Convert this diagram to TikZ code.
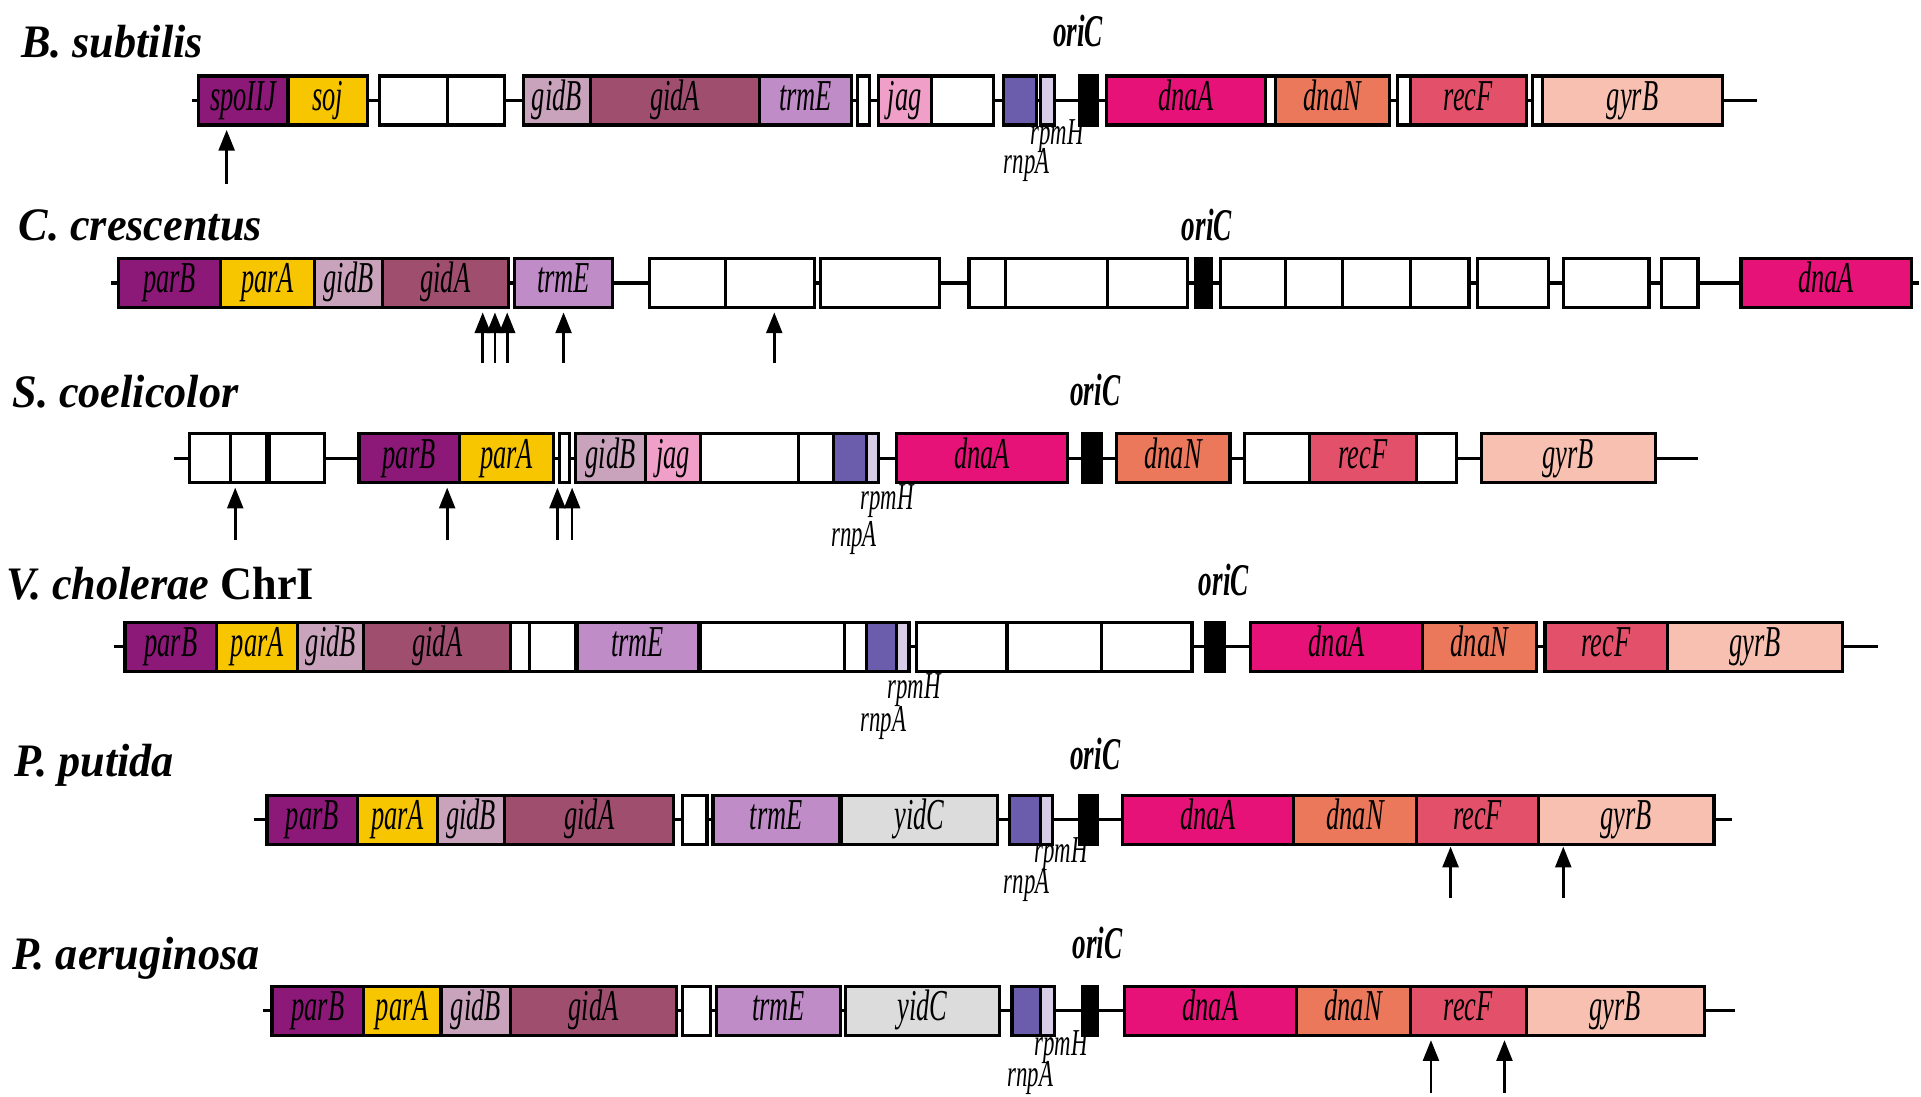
\documentclass[tikz,border=0pt]{standalone}
\usepackage{fontspec}
\setmainfont{Liberation Serif}
\newfontfamily\genefont{Liberation Serif}[FakeStretch=0.6]
\newfontfamily\titlefont{Liberation Serif}[FakeStretch=0.95]
\usetikzlibrary{arrows.meta}

\definecolor{cParB}{RGB}{140,24,120}
\definecolor{cParA}{RGB}{247,198,0}
\definecolor{cGidB}{RGB}{200,163,187}
\definecolor{cGidA}{RGB}{160,78,110}
\definecolor{cTrmE}{RGB}{192,140,200}
\definecolor{cJag}{RGB}{240,160,200}
\definecolor{cRnpA}{RGB}{108,92,172}
\definecolor{cRpmH}{RGB}{215,205,230}
\definecolor{cDnaA}{RGB}{230,18,120}
\definecolor{cDnaN}{RGB}{236,120,92}
\definecolor{cRecF}{RGB}{226,80,105}
\definecolor{cGyrB}{RGB}{248,192,176}
\definecolor{cYidC}{RGB}{220,220,220}

\begin{document}
\begin{tikzpicture}[
  x=1pt, y=-1pt,
  gene/.style={rectangle, draw, fill=white, line width=2.6pt, inner sep=0pt, outer sep=0pt, minimum height=40pt, text height=24pt, text depth=8pt, font=\genefont\fontsize{36}{36}\selectfont\itshape},
  ori/.style={rectangle, draw, fill=black, line width=2.6pt, inner sep=0pt, minimum height=40pt},
  backbone/.style={line width=2.6pt},
  species/.style={anchor=base west, inner sep=0pt, font=\titlefont\fontsize{38}{38}\selectfont\bfseries\itshape},
  orilab/.style={anchor=base, inner sep=0pt, font=\genefont\fontsize{37}{37}\selectfont\bfseries\itshape},
  sublab/.style={inner sep=0pt, font=\genefont\fontsize{31}{31}\selectfont\itshape},
  arrow/.style={-{Triangle[length=17pt, width=13pt]}, line width=2.2pt}
]
  \useasboundingbox (0,0) rectangle (1568,895);

  % B. subtilis
  \node[species] (bsName) at (17,47) {B. subtilis};
  \coordinate (bsL) at (157,82);
  \coordinate (bsR) at (1434,82);
  \draw[backbone] (bsL) -- (bsR);
  \node[gene, fill=cParB, minimum width=73pt] (bsSpo) at (198.5,82) {spoIIJ};
  \node[gene, fill=cParA, minimum width=65pt] (bsSoj) at (267.5,82) {soj};
  \node[gene, minimum width=55pt] (bsW1) at (337.5,82) {};
  \node[gene, minimum width=47pt] (bsW2) at (388.5,82) {};
  \node[gene, fill=cGidB, minimum width=55pt] (bsGidB) at (454.5,82) {gidB};
  \node[gene, fill=cGidA, minimum width=138pt] (bsGidA) at (551,82) {gidA};
  \node[gene, fill=cTrmE, minimum width=75pt] (bsTrmE) at (657.5,82) {trmE};
  \node[gene, minimum width=10pt] (bsW3) at (705,82) {};
  \node[gene, fill=cJag, minimum width=43pt] (bsJag) at (738.5,82) {jag};
  \node[gene, minimum width=51pt] (bsW4) at (785.5,82) {};
  \node[gene, fill=cRnpA, minimum width=27pt] (bsRnpA) at (832.5,82) {};
  \node[gene, fill=cRpmH, minimum width=12pt] (bsRpmH) at (855,82) {};
  \node[ori, minimum width=15pt] (bsOri) at (888.5,82) {};
  \node[gene, fill=cDnaA, minimum width=130pt] (bsDnaA) at (968,82) {dnaA};
  \node[gene, minimum width=8pt] (bsW5) at (1037,82) {};
  \node[gene, fill=cDnaN, minimum width=93pt] (bsDnaN) at (1087.5,82) {dnaN};
  \node[gene, minimum width=10pt] (bsW6) at (1146,82) {};
  \node[gene, fill=cRecF, minimum width=95pt] (bsRecF) at (1198.5,82) {recF};
  \node[gene, minimum width=8pt] (bsW7) at (1255,82) {};
  \node[gene, fill=cGyrB, minimum width=147pt] (bsGyrB) at (1332.5,82) {gyrB};
  \node[orilab] (bsOriLab) at (880,38) {oriC};
  \node[sublab] (bsRpmHLab) at (863,111) {rpmH};
  \node[sublab] (bsRnpALab) at (838,135) {rnpA};
  \coordinate (bsA1) at (185,150);
  \coordinate (bsT1) at (185,106);
  \draw[arrow] (bsA1) -- (bsT1);

  % C. crescentus
  \node[species] (ccName) at (15,196) {C. crescentus};
  \coordinate (ccL) at (91,231);
  \coordinate (ccR) at (1566,231);
  \draw[backbone] (ccL) -- (ccR);
  \node[gene, fill=cParB, minimum width=83pt] (ccParB) at (138.5,231) {parB};
  \node[gene, fill=cParA, minimum width=77pt] (ccParA) at (218.5,231) {parA};
  \node[gene, fill=cGidB, minimum width=55pt] (ccGidB) at (284.5,231) {gidB};
  \node[gene, fill=cGidA, minimum width=103pt] (ccGidA) at (363.5,231) {gidA};
  \node[gene, fill=cTrmE, minimum width=80pt] (ccTrmE) at (460,231) {trmE};
  \node[gene, minimum width=62pt] (ccW1) at (561,231) {};
  \node[gene, minimum width=73pt] (ccW2) at (628.5,231) {};
  \node[gene, minimum width=97pt] (ccW3) at (718.5,231) {};
  \node[gene, minimum width=30pt] (ccW4) at (806,231) {};
  \node[gene, minimum width=83pt] (ccW5) at (862.5,231) {};
  \node[gene, minimum width=65pt] (ccW6) at (936.5,231) {};
  \node[ori, minimum width=13pt] (ccOri) at (982.5,231) {};
  \node[gene, minimum width=53pt] (ccW7) at (1022.5,231) {};
  \node[gene, minimum width=47pt] (ccW8) at (1072.5,231) {};
  \node[gene, minimum width=55pt] (ccW9) at (1123.5,231) {};
  \node[gene, minimum width=48pt] (ccW10) at (1175,231) {};
  \node[gene, minimum width=58pt] (ccW11) at (1235,231) {};
  \node[gene, minimum width=70pt] (ccW12) at (1311,231) {};
  \node[gene, minimum width=30pt] (ccW13) at (1371,231) {};
  \node[gene, fill=cDnaA, minimum width=139pt] (ccDnaA) at (1490.5,231) {dnaA};
  \node[orilab] (ccOriLab) at (985,196) {oriC};
  \coordinate (ccA1) at (394,296);
  \coordinate (ccT1) at (394,255);
  \coordinate (ccA2) at (404,296);
  \coordinate (ccT2) at (404,255);
  \coordinate (ccA3) at (414,296);
  \coordinate (ccT3) at (414,255);
  \coordinate (ccA4) at (460,296);
  \coordinate (ccT4) at (460,255);
  \coordinate (ccA5) at (632,296);
  \coordinate (ccT5) at (632,255);
  \draw[arrow] (ccA1) -- (ccT1);
  \draw[arrow] (ccA2) -- (ccT2);
  \draw[arrow] (ccA3) -- (ccT3);
  \draw[arrow] (ccA4) -- (ccT4);
  \draw[arrow] (ccA5) -- (ccT5);

  % S. coelicolor
  \node[species] (scName) at (10,333) {S. coelicolor};
  \coordinate (scL) at (142,374);
  \coordinate (scR) at (1386,374);
  \draw[backbone] (scL) -- (scR);
  \node[gene, minimum width=33pt] (scW1) at (171.5,374) {};
  \node[gene, minimum width=30pt] (scW2) at (203,374) {};
  \node[gene, minimum width=45pt] (scW3) at (242.5,374) {};
  \node[gene, fill=cParB, minimum width=82pt] (scParB) at (334,374) {parB};
  \node[gene, fill=cParA, minimum width=77pt] (scParA) at (413.5,374) {parA};
  \node[gene, minimum width=8pt] (scW4) at (461,374) {};
  \node[gene, fill=cGidB, minimum width=57pt] (scGidB) at (498.5,374) {gidB};
  \node[gene, fill=cJag, minimum width=45pt] (scJag) at (549.5,374) {jag};
  \node[gene, minimum width=80pt] (scW5) at (612,374) {};
  \node[gene, minimum width=28pt] (scW6) at (666,374) {};
  \node[gene, fill=cRnpA, minimum width=27pt] (scRnpA) at (693.5,374) {};
  \node[gene, fill=cRpmH, minimum width=10pt] (scRpmH) at (712,374) {};
  \node[gene, fill=cDnaA, minimum width=139pt] (scDnaA) at (801.5,374) {dnaA};
  \node[ori, minimum width=15pt] (scOri) at (891.5,374) {};
  \node[gene, fill=cDnaN, minimum width=93pt] (scDnaN) at (957.5,374) {dnaN};
  \node[gene, minimum width=53pt] (scW7) at (1042.5,374) {};
  \node[gene, fill=cRecF, minimum width=87pt] (scRecF) at (1112.5,374) {recF};
  \node[gene, minimum width=33pt] (scW8) at (1172.5,374) {};
  \node[gene, fill=cGyrB, minimum width=142pt] (scGyrB) at (1280,374) {gyrB};
  \node[orilab] (scOriLab) at (894,331) {oriC};
  \node[sublab] (scRpmHLab) at (724,409) {rpmH};
  \node[sublab] (scRnpALab) at (697,439) {rnpA};
  \coordinate (scA1) at (192,441);
  \coordinate (scT1) at (192,398);
  \coordinate (scA2) at (365,441);
  \coordinate (scT2) at (365,398);
  \coordinate (scA3) at (455,441);
  \coordinate (scT3) at (455,398);
  \coordinate (scA4) at (467,441);
  \coordinate (scT4) at (467,398);
  \draw[arrow] (scA1) -- (scT1);
  \draw[arrow] (scA2) -- (scT2);
  \draw[arrow] (scA3) -- (scT3);
  \draw[arrow] (scA4) -- (scT4);

  % V. cholerae ChrI
  \node[species] (vcName) at (5,489) {V. cholerae \upshape ChrI};
  \coordinate (vcL) at (93,528);
  \coordinate (vcR) at (1533,528);
  \draw[backbone] (vcL) -- (vcR);
  \node[gene, fill=cParB, minimum width=75pt] (vcParB) at (139.5,528) {parB};
  \node[gene, fill=cParA, minimum width=66pt] (vcParA) at (210,528) {parA};
  \node[gene, fill=cGidB, minimum width=54pt] (vcGidB) at (270,528) {gidB};
  \node[gene, fill=cGidA, minimum width=120pt] (vcGidA) at (357,528) {gidA};
  \node[gene, minimum width=15pt] (vcW1) at (424.5,528) {};
  \node[gene, minimum width=38pt] (vcW2) at (451,528) {};
  \node[gene, fill=cTrmE, minimum width=99pt] (vcTrmE) at (520.5,528) {trmE};
  \node[gene, minimum width=117pt] (vcW3) at (630.5,528) {};
  \node[gene, minimum width=18pt] (vcW4) at (698,528) {};
  \node[gene, fill=cRnpA, minimum width=25pt] (vcRnpA) at (719.5,528) {};
  \node[gene, fill=cRpmH, minimum width=10pt] (vcRpmH) at (737,528) {};
  \node[gene, minimum width=74pt] (vcW5) at (785,528) {};
  \node[gene, minimum width=77pt] (vcW6) at (860.5,528) {};
  \node[gene, minimum width=74pt] (vcW7) at (936,528) {};
  \node[ori, minimum width=15pt] (vcOri) at (991.5,528) {};
  \node[gene, fill=cDnaA, minimum width=140pt] (vcDnaA) at (1091,528) {dnaA};
  \node[gene, fill=cDnaN, minimum width=93pt] (vcDnaN) at (1207.5,528) {dnaN};
  \node[gene, fill=cRecF, minimum width=100pt] (vcRecF) at (1311,528) {recF};
  \node[gene, fill=cGyrB, minimum width=143pt] (vcGyrB) at (1432.5,528) {gyrB};
  \node[orilab] (vcOriLab) at (999,486) {oriC};
  \node[sublab] (vcRpmHLab) at (746,563) {rpmH};
  \node[sublab] (vcRnpALab) at (721,590) {rnpA};

  % P. putida
  \node[species] (ppName) at (12,634) {P. putida};
  \coordinate (ppL) at (207,669);
  \coordinate (ppR) at (1414,669);
  \draw[backbone] (ppL) -- (ppR);
  \node[gene, fill=cParB, minimum width=74pt] (ppParB) at (255,669) {parB};
  \node[gene, fill=cParA, minimum width=65pt] (ppParA) at (324.5,669) {parA};
  \node[gene, fill=cGidB, minimum width=55pt] (ppGidB) at (384.5,669) {gidB};
  \node[gene, fill=cGidA, minimum width=138pt] (ppGidA) at (481,669) {gidA};
  \node[gene, minimum width=20pt] (ppW1) at (567,669) {};
  \node[gene, fill=cTrmE, minimum width=103pt] (ppTrmE) at (633.5,669) {trmE};
  \node[gene, fill=cYidC, minimum width=127pt] (ppYidC) at (750.5,669) {yidC};
  \node[gene, fill=cRnpA, minimum width=25pt] (ppRnpA) at (836.5,669) {};
  \node[gene, fill=cRpmH, minimum width=10pt] (ppRpmH) at (854,669) {};
  \node[ori, minimum width=15pt] (ppOri) at (888.5,669) {};
  \node[gene, fill=cDnaA, minimum width=140pt] (ppDnaA) at (986,669) {dnaA};
  \node[gene, fill=cDnaN, minimum width=100pt] (ppDnaN) at (1106,669) {dnaN};
  \node[gene, fill=cRecF, minimum width=100pt] (ppRecF) at (1206,669) {recF};
  \node[gene, fill=cGyrB, minimum width=143pt] (ppGyrB) at (1327.5,669) {gyrB};
  \node[orilab] (ppOriLab) at (894,628) {oriC};
  \node[sublab] (ppRpmHLab) at (866,697) {rpmH};
  \node[sublab] (ppRnpALab) at (838,722) {rnpA};
  \coordinate (ppA1) at (1184,733);
  \coordinate (ppT1) at (1184,691);
  \coordinate (ppA2) at (1276,733);
  \coordinate (ppT2) at (1276,691);
  \draw[arrow] (ppA1) -- (ppT1);
  \draw[arrow] (ppA2) -- (ppT2);

  % P. aeruginosa
  \node[species] (paName) at (10,791) {P. aeruginosa};
  \coordinate (paL) at (215,825);
  \coordinate (paR) at (1416,825);
  \draw[backbone] (paL) -- (paR);
  \node[gene, fill=cParB, minimum width=75pt] (paParB) at (259.5,825) {parB};
  \node[gene, fill=cParA, minimum width=63pt] (paParA) at (328.5,825) {parA};
  \node[gene, fill=cGidB, minimum width=57pt] (paGidB) at (388.5,825) {gidB};
  \node[gene, fill=cGidA, minimum width=135pt] (paGidA) at (484.5,825) {gidA};
  \node[gene, minimum width=23pt] (paW1) at (568.5,825) {};
  \node[gene, fill=cTrmE, minimum width=101pt] (paTrmE) at (635.5,825) {trmE};
  \node[gene, fill=cYidC, minimum width=126pt] (paYidC) at (753,825) {yidC};
  \node[gene, fill=cRnpA, minimum width=23pt] (paRnpA) at (837.5,825) {};
  \node[gene, fill=cRpmH, minimum width=12pt] (paRpmH) at (855,825) {};
  \node[ori, minimum width=12pt] (paOri) at (890,825) {};
  \node[gene, fill=cDnaA, minimum width=140pt] (paDnaA) at (988,825) {dnaA};
  \node[gene, fill=cDnaN, minimum width=93pt] (paDnaN) at (1104.5,825) {dnaN};
  \node[gene, fill=cRecF, minimum width=95pt] (paRecF) at (1198.5,825) {recF};
  \node[gene, fill=cGyrB, minimum width=145pt] (paGyrB) at (1318.5,825) {gyrB};
  \node[orilab] (paOriLab) at (896,782) {oriC};
  \node[sublab] (paRpmHLab) at (866,855) {rpmH};
  \node[sublab] (paRnpALab) at (841,880) {rnpA};
  \coordinate (paA1) at (1168,892);
  \coordinate (paT1) at (1168,849);
  \coordinate (paA2) at (1228,892);
  \coordinate (paT2) at (1228,849);
  \draw[arrow] (paA1) -- (paT1);
  \draw[arrow] (paA2) -- (paT2);
\end{tikzpicture}
\end{document}
